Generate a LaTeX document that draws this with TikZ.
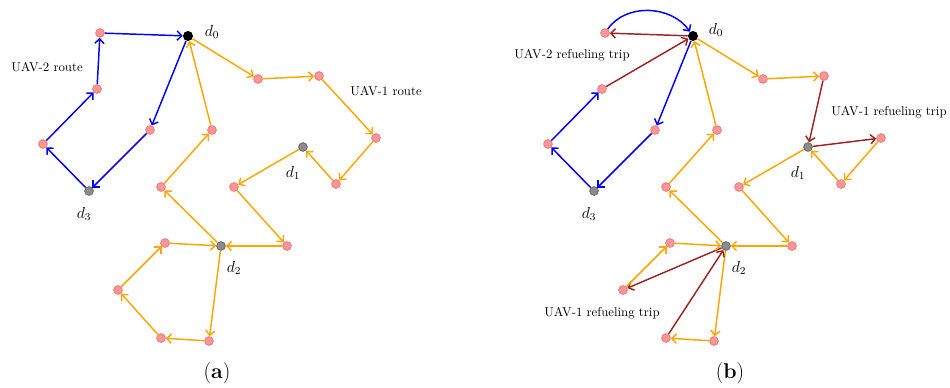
\documentclass[tikz,border=0pt]{standalone}
\usetikzlibrary{arrows.meta}
\definecolor{pinkfill}{RGB}{255,150,150}
\definecolor{pinkdraw}{RGB}{240,125,125}
\definecolor{depfill}{RGB}{140,140,140}
\definecolor{depdraw}{RGB}{110,110,110}
\definecolor{uavorange}{RGB}{255,165,0}
\definecolor{refred}{RGB}{160,35,35}
\begin{document}
\begin{tikzpicture}[x=0.75pt,y=-0.75pt,
  wp/.style={circle,fill=pinkfill,draw=pinkdraw,line width=0.7pt,inner sep=0pt,minimum size=6.5pt},
  depot/.style={circle,fill=depfill,draw=depdraw,line width=0.7pt,inner sep=0pt,minimum size=6.5pt},
  base/.style={circle,fill=black,inner sep=0pt,minimum size=7.5pt},
  arr/.style={line width=1.1pt,-{Straight Barb[length=3.5pt,width=7pt]}},
  bl/.style={arr,draw=blue},
  og/.style={arr,draw=uavorange},
  rd/.style={arr,draw=refred},
  lbl/.style={font=\fontsize{9.6}{11}\selectfont,inner sep=0pt},
  dlbl/.style={font=\fontsize{11.5}{13}\selectfont,inner sep=0pt},
  captext/.style={font=\fontsize{16}{18}\selectfont,inner sep=0pt}]
\useasboundingbox (0,0) rectangle (950,387);
% ---------------- panel (a) ----------------
\node[base] (a0) at (188,36) {};
\node[wp] (aA) at (100,33) {};
\node[wp] (aB) at (97,89) {};
\node[wp] (aC) at (43,144) {};
\node[depot] (a3) at (89,191) {};
\node[wp] (aE) at (150,130) {};
\node[wp] (aF) at (258,79) {};
\node[wp] (aG) at (319,76) {};
\node[wp] (aH) at (376,138) {};
\node[wp] (aI) at (336,184) {};
\node[depot] (a1) at (303,147) {};
\node[wp] (aJ) at (234,187) {};
\node[wp] (aK) at (212,130) {};
\node[wp] (aL) at (161,187) {};
\node[depot] (a2) at (221,246) {};
\node[wp] (aM) at (165,243) {};
\node[wp] (aN) at (118,290) {};
\node[wp] (aO) at (161,338) {};
\node[wp] (aP) at (209,341) {};
\node[wp] (aQ) at (287,246) {};
\node[dlbl] (la0) at (212,32) {$d_0$};
\node[dlbl] (la1) at (293,173) {$d_1$};
\node[dlbl] (la2) at (234,268) {$d_2$};
\node[dlbl] (la3) at (84,214) {$d_3$};
\node[lbl] (ta2) at (47,67) {UAV-2 route};
\node[lbl] (ta1) at (386,91) {UAV-1 route};
\node[captext] (capa) at (217,373) {(\textbf{a})};
\draw[bl] (a0) -- (aE);
\draw[bl] (aE) -- (a3);
\draw[bl] (a3) -- (aC);
\draw[bl] (aC) -- (aB);
\draw[bl] (aB) -- (aA);
\draw[bl] (aA) -- (a0);
\draw[og] (a0) -- (aF);
\draw[og] (aF) -- (aG);
\draw[og] (aG) -- (aH);
\draw[og] (aH) -- (aI);
\draw[og] (aI) -- (a1);
\draw[og] (a1) -- (aJ);
\draw[og] (aJ) -- (aQ);
\draw[og] (aQ) -- (a2);
\draw[og] (a2) -- (aL);
\draw[og] (aL) -- (aK);
\draw[og] (aK) -- (a0);
\draw[og] (a2) -- (aP);
\draw[og] (aP) -- (aO);
\draw[og] (aO) -- (aN);
\draw[og] (aN) -- (aM);
\draw[og] (aM) -- (a2);
% ---------------- panel (b) ----------------
\begin{scope}[shift={(505,0)}]
\node[base] (b0) at (188,36) {};
\node[wp] (bA) at (100,33) {};
\node[wp] (bB) at (97,89) {};
\node[wp] (bC) at (43,144) {};
\node[depot] (b3) at (89,191) {};
\node[wp] (bE) at (150,130) {};
\node[wp] (bF) at (258,79) {};
\node[wp] (bG) at (319,76) {};
\node[wp] (bH) at (376,138) {};
\node[wp] (bI) at (336,184) {};
\node[depot] (b1) at (303,147) {};
\node[wp] (bJ) at (234,187) {};
\node[wp] (bK) at (212,130) {};
\node[wp] (bL) at (161,187) {};
\node[depot] (b2) at (221,246) {};
\node[wp] (bM) at (165,243) {};
\node[wp] (bN) at (118,290) {};
\node[wp] (bO) at (161,338) {};
\node[wp] (bP) at (209,341) {};
\node[wp] (bQ) at (287,246) {};
\node[dlbl] (lb0) at (211,30) {$d_0$};
\node[dlbl] (lb1) at (293,173) {$d_1$};
\node[dlbl] (lb2) at (234,268) {$d_2$};
\node[dlbl] (lb3) at (84,214) {$d_3$};
\node[lbl] (tb2) at (67,55) {UAV-2 refueling trip};
\node[lbl] (tb1) at (384,112) {UAV-1 refueling trip};
\node[lbl] (tb1b) at (97,313) {UAV-1 refueling trip};
\node[captext] (capb) at (225,373) {(\textbf{b})};
\end{scope}
\draw[bl] (b0) -- (bE);
\draw[bl] (bE) -- (b3);
\draw[bl] (b3) -- (bC);
\draw[bl] (bC) -- (bB);
\draw[bl] (bA) to[out=55,in=125] (b0);
\draw[rd] (b0) -- (bA);
\draw[rd] (bB) -- (b0);
\draw[og] (b0) -- (bF);
\draw[og] (bF) -- (bG);
\draw[rd] (bG) -- (b1);
\draw[rd] (b1) -- (bH);
\draw[og] (bH) -- (bI);
\draw[og] (bI) -- (b1);
\draw[og] (b1) -- (bJ);
\draw[og] (bJ) -- (bQ);
\draw[og] (bQ) -- (b2);
\draw[og] (b2) -- (bL);
\draw[og] (bL) -- (bK);
\draw[og] (bK) -- (b0);
\draw[og] (b2) -- (bP);
\draw[og] (bP) -- (bO);
\draw[rd] (bO) -- (b2);
\draw[rd] (b2) -- (bN);
\draw[og] (bN) -- (bM);
\draw[og] (bM) -- (b2);
\end{tikzpicture}
\end{document}
